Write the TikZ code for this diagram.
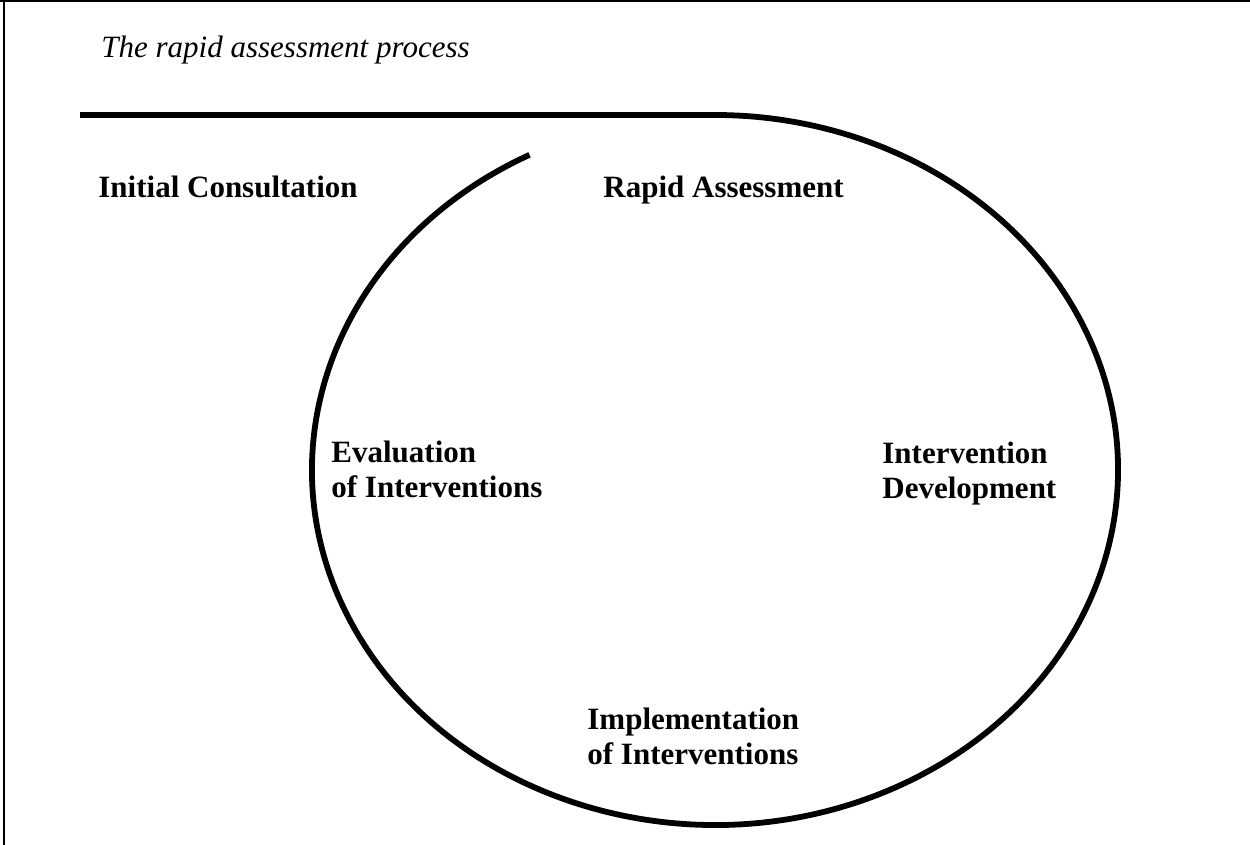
\documentclass[tikz,border=0pt]{standalone}
\usepackage{fontspec}
\setmainfont{Liberation Serif}
\usetikzlibrary{calc}
\begin{document}
\begin{tikzpicture}[x=0.5pt,y=0.5pt,
  frameline/.style={line width=1.2pt, draw=black},
  thick line/.style={line width=2.9pt, draw=black},
  label/.style={font=\fontsize{15.5}{17.5}\selectfont\bfseries, inner sep=0pt, align=left, anchor=north west},
  titletext/.style={font=\fontsize{15.5}{18}\selectfont\itshape, inner sep=0pt, anchor=base west}]
\useasboundingbox (0,0) rectangle (1250,-845);
% frame
\draw[frameline] (0,-1) -- (1250,-1);
\draw[frameline] (4,-1) -- (4,-845);
% title
\node[titletext] (title) at (101,-58) {The rapid assessment process};
% cycle: horizontal bar into ellipse
\coordinate (c) at (715,-470);
\coordinate (barstart) at (80,-115);
\coordinate (arcstart) at ($(c)+(117.4:403 and 355)$);
\draw[thick line] (arcstart) arc[start angle=117.4, end angle=450, x radius=403, y radius=355] -- (barstart);
% labels
\node[label] (init) at (98,-176) {Initial Consultation};
\node[label] (rapid) at (603,-176) {Rapid Assessment};
\node[label] (eval) at (331,-441) {Evaluation\\of Interventions};
\node[label] (dev) at (882,-442) {Intervention\\Development};
\node[label] (impl) at (587,-708) {Implementation\\of Interventions};
\end{tikzpicture}
\end{document}
